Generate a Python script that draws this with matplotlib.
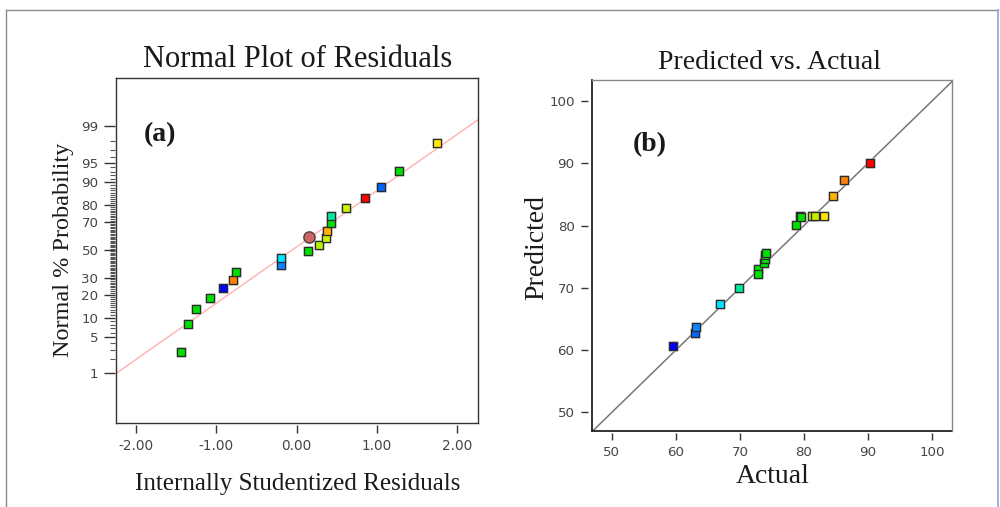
import numpy as np
import matplotlib
matplotlib.use("Agg")
import matplotlib.pyplot as plt
from matplotlib.lines import Line2D
from statistics import NormalDist

# ---------------- data ----------------
# (a) normal probability plot of internally studentized residuals
residuals = [-1.44, -1.35, -1.25, -1.08, -0.92, -0.79, -0.75, -0.20, -0.20, 0.14,
             0.28, 0.37, 0.38, 0.43, 0.43, 0.61, 0.85, 1.05, 1.28, 1.75]
normal_prob = [2.7, 8.1, 13.3, 18.4, 23.7, 28.6, 33.9, 38.9, 43.8, 49.0,
               54.0, 59.1, 64.0, 69.1, 73.7, 78.5, 83.4, 88.3, 93.1, 97.8]
resid_colors = ["#00e000", "#00e000", "#00e000", "#00e000", "#0000ff", "#ff7f00",
                "#00e000", "#0a84ff", "#00e5ff", "#00e000", "#b4f000", "#c8f000",
                "#ffb300", "#00e000", "#00e8a0", "#d0f000", "#ff0000", "#0066ff",
                "#00e000", "#ffe600"]
center_resid = [0.16]
center_prob = [59.5]
fit_resid = [-2.25, 2.26]
fit_prob = [1.0, 99.29]
resid_ticks = [-2.0, -1.0, 0.0, 1.0, 2.0]
resid_ticklabels = ["-2.00", "-1.00", "0.00", "1.00", "2.00"]
prob_ticks = [1, 5, 10, 20, 30, 50, 70, 80, 90, 95, 99]

# (b) predicted vs. actual
actual = [59.6, 63.0, 63.2, 66.9, 69.8, 72.8, 72.9, 73.8, 73.9, 74.0,
          74.1, 78.8, 79.4, 79.5, 81.3, 81.8, 83.2, 84.6, 86.3, 90.3]
predicted = [60.6, 62.8, 63.7, 67.4, 70.0, 73.0, 72.2, 74.0, 74.7, 75.3,
             75.6, 80.1, 81.5, 81.4, 81.5, 81.5, 81.5, 84.7, 87.4, 90.0]
pred_colors = ["#0000ff", "#0066ff", "#0a84ff", "#00e5ff", "#00e8a0", "#00e000",
               "#00e000", "#00e000", "#00e000", "#00e000", "#00e000", "#00e000",
               "#00e000", "#00e000", "#b4f000", "#c8e800", "#ffe600", "#ffb300",
               "#ff7f00", "#ff0000"]
pa_ticks = [50, 60, 70, 80, 90, 100]
diag = [0.0, 200.0]

# ---------------- helpers ----------------
_nd = NormalDist()


def probit(p):
    p = np.asarray(p, dtype=float)
    if p.size == 0:
        return p
    q = np.clip(p / 100.0, 1e-9, 1 - 1e-9)
    return np.vectorize(_nd.inv_cdf, otypes=[float])(q)


def inv_probit(z):
    z = np.asarray(z, dtype=float)
    if z.size == 0:
        return z
    return 100.0 * np.vectorize(_nd.cdf, otypes=[float])(z)


SERIF = ["Liberation Serif", "DejaVu Serif"]
TICKCOL = "#454545"
TEXTCOL = "#1a1a1a"


def squares(ax, x, y, colors, ms=5.8):
    for xi, yi, c in zip(x, y, colors):
        ax.plot([xi], [yi], ls="none", marker="s", ms=ms + 2.0, mfc="#b0b0b0",
                mec="none", zorder=3)
        ax.plot([xi], [yi], ls="none", marker="s", ms=ms, mfc=c, mec="#2a2a2a",
                mew=0.9, zorder=4)


def frame(ax, colors, lws):
    # sides: left, bottom, right, top
    segs = [([0, 0], [0, 1]), ([0, 1], [0, 0]), ([1, 1], [0, 1]), ([0, 1], [1, 1])]
    for (xs, ys), c, lw in zip(segs, colors, lws):
        ax.add_line(Line2D(xs, ys, transform=ax.transAxes, color=c, lw=lw,
                           clip_on=False, zorder=5, solid_capstyle="projecting"))
    for s in ax.spines.values():
        s.set_visible(False)


fig = plt.figure(figsize=(10.0, 5.07), dpi=100)
fig.patch.set_facecolor("white")

# outer border
fig.add_artist(Line2D([0.006, 0.006], [0.0, 0.980], color="#8a8a8a", lw=1.0))
fig.add_artist(Line2D([0.006, 0.998], [0.980, 0.980], color="#8a8a8a", lw=1.0))
fig.add_artist(Line2D([0.998, 0.998], [0.0, 0.980], color="#8fa6d6", lw=1.2))

# ---------------- (a) ----------------
ax1 = fig.add_axes([0.116, 0.1657, 0.362, 0.6805])
ax1.set_yscale("function", functions=(probit, inv_probit))
ax1.set_xlim(-2.25, 2.26)
ax1.set_ylim(0.056, 99.94)

ax1.plot(fit_resid, fit_prob, color="#ffb0b0", lw=1.0, zorder=2)
squares(ax1, residuals, normal_prob, resid_colors)
ax1.plot(center_resid, center_prob, ls="none", marker="o", ms=9.5, mfc="#b0b0b0",
         mec="none", zorder=5)
ax1.plot(center_resid, center_prob, ls="none", marker="o", ms=8.0, mfc="#d06464",
         mec="#3a3a3a", mew=0.8, zorder=6)

ax1.set_xticks(resid_ticks)
ax1.set_xticklabels(resid_ticklabels)
ax1.set_yticks(prob_ticks)
ax1.set_yticklabels([str(t) for t in prob_ticks])
ax1.set_yticks([v for v in range(1, 100) if v not in prob_ticks], minor=True)
ax1.xaxis.set_minor_locator(matplotlib.ticker.NullLocator())
ax1.spines["bottom"].set_position(("outward", 1.5))
ax1.spines["left"].set_position(("outward", 0.6))
ax1.tick_params(axis="x", which="major", direction="out", length=5.8, width=1.0,
                color="#333333", pad=4.5, labelsize=9.8, labelcolor=TICKCOL)
ax1.tick_params(axis="y", which="major", direction="out", length=8.0, width=1.0,
                color="#333333", pad=4.0, labelsize=9.6, labelcolor=TICKCOL)
ax1.tick_params(axis="y", which="minor", direction="out", length=3.8, width=0.8,
                color="#555555")
frame(ax1, ["#333333"] * 4, [1.0, 1.0, 1.0, 1.0])

fig.text(0.16, 0.7337, "(a)", ha="center", va="center", fontsize=20,
         fontweight="bold", family=SERIF, color=TEXTCOL)
fig.text(0.298, 0.8684, "Normal Plot of Residuals", ha="center", va="baseline",
         fontsize=22, family=SERIF, color=TEXTCOL)
fig.text(0.2975, 0.0335, "Internally Studentized Residuals", ha="center",
         va="baseline", fontsize=18, family=SERIF, color=TEXTCOL)
fig.text(0.063, 0.507, "Normal % Probability", ha="center", va="center",
         rotation=90, fontsize=17.5, family=SERIF, color=TEXTCOL)

# ---------------- (b) ----------------
ax2 = fig.add_axes([0.5917, 0.150, 0.360, 0.6923])
ax2.plot(diag, diag, color="#777777", lw=1.1, zorder=2)
squares(ax2, actual, predicted, pred_colors, ms=5.5)
ax2.set_xlim(46.84, 103.1)
ax2.set_ylim(47.0, 103.4)

ax2.set_xticks(pa_ticks)
ax2.set_yticks(pa_ticks)
ax2.spines["bottom"].set_position(("outward", 1.5))
ax2.spines["left"].set_position(("outward", 3.0))
ax2.tick_params(axis="both", which="major", direction="out", length=5.0, width=1.0,
                color="#333333", pad=4.3, labelsize=9.6, labelcolor=TICKCOL)
frame(ax2, ["#222222", "#222222", "#888888", "#888888"], [1.3, 1.3, 1.0, 1.0])

fig.text(0.65, 0.714, "(b)", ha="center", va="center", fontsize=20,
         fontweight="bold", family=SERIF, color=TEXTCOL)
fig.text(0.770, 0.8633, "Predicted vs. Actual", ha="center", va="baseline",
         fontsize=20, family=SERIF, color=TEXTCOL)
fig.text(0.773, 0.0473, "Actual", ha="center", va="baseline", fontsize=20,
         family=SERIF, color=TEXTCOL)
fig.text(0.537, 0.511, "Predicted", ha="center", va="center", rotation=90,
         fontsize=20, family=SERIF, color=TEXTCOL)

fig.savefig("out.png", dpi=100, facecolor="white")
